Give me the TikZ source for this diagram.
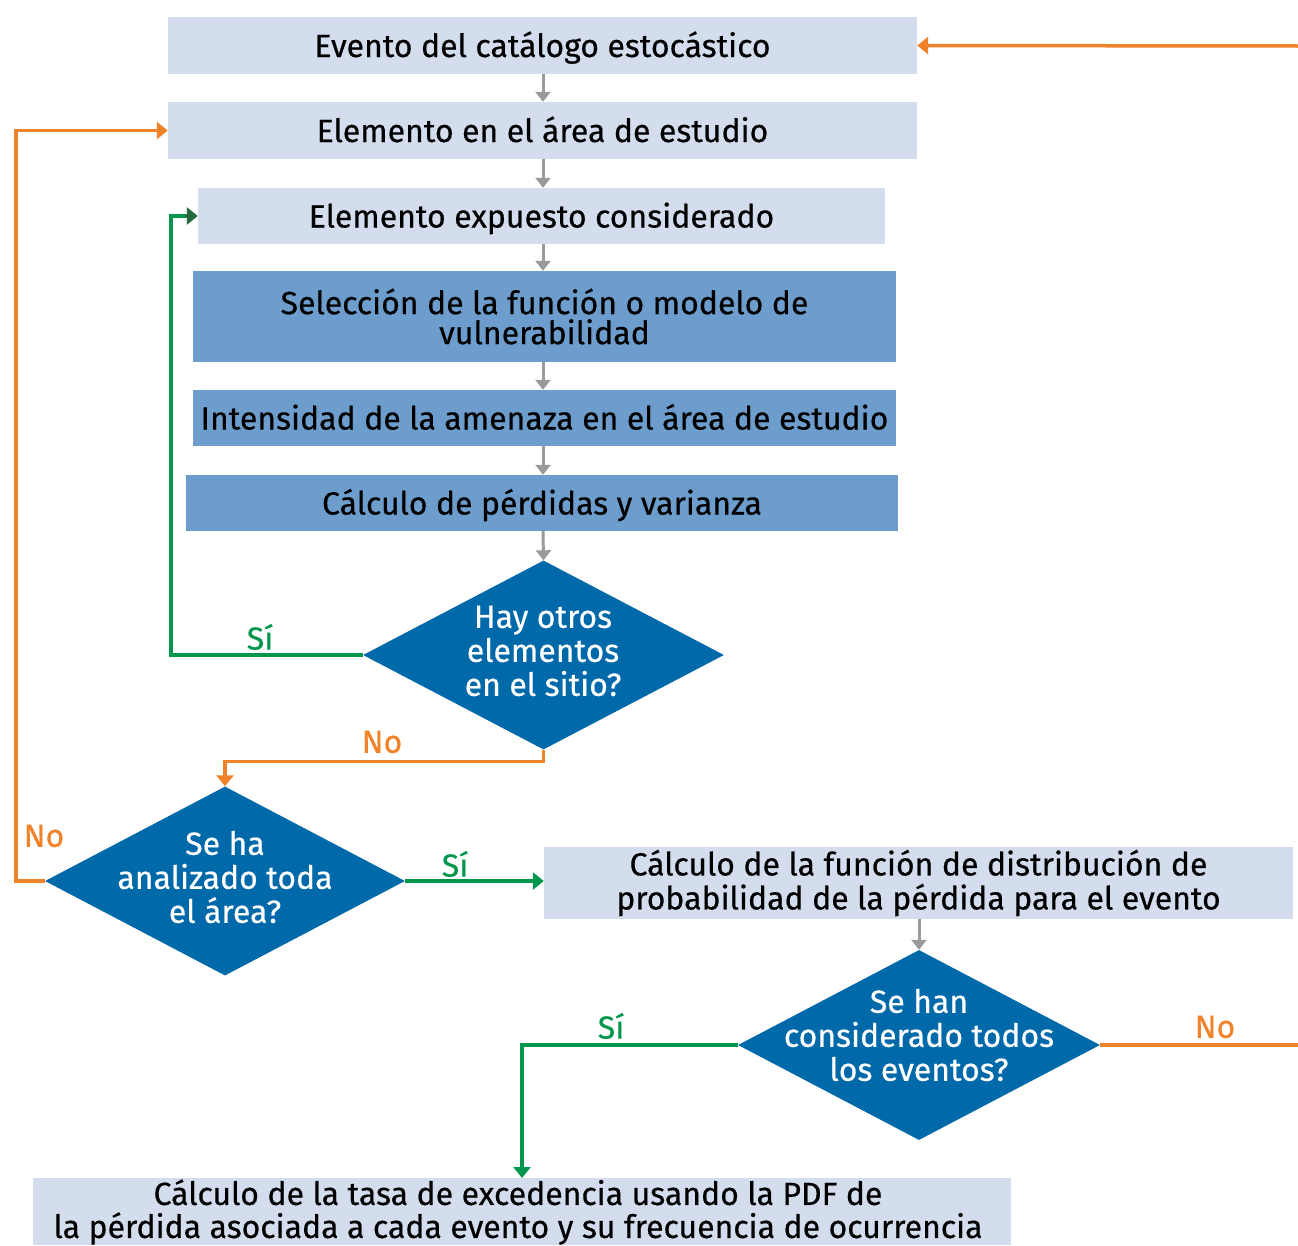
\documentclass[tikz,border=0pt]{standalone}
\usepackage{fontspec}
\setmainfont{Fira Sans}[FakeBold=0.5]
\usetikzlibrary{arrows.meta,shapes.geometric}
\definecolor{lightb}{HTML}{D4DDEE}
\definecolor{midb}{HTML}{6C9DCC}
\definecolor{diab}{HTML}{0069A9}
\definecolor{orangec}{HTML}{F0822A}
\definecolor{greenc}{HTML}{00964B}
\definecolor{dgreen}{HTML}{26683F}
\definecolor{grayc}{HTML}{9A9A9A}
\begin{document}
\begin{tikzpicture}[x=1pt,y={(0pt,-1pt)},
  font=\fontsize{32}{34}\selectfont,
  lbox/.style={rectangle, fill=lightb, draw=none, inner sep=0pt, align=center, text=black},
  mbox/.style={rectangle, fill=midb, draw=none, inner sep=0pt, align=center, text=black},
  sl/.style={text height=23pt, text depth=0pt},
  dia/.style={diamond, fill=diab, draw=none, inner sep=0pt},
  dtext/.style={text=white, align=center, inner sep=0pt},
  garrow/.style={draw=grayc, line width=3pt, -{Triangle[length=10pt,width=15pt]}},
  oarrow/.style={draw=orangec, line width=3.5pt, -{Triangle[length=11pt,width=17pt]}},
  oline/.style={draw=orangec, line width=3.5pt},
  grarrow/.style={draw=greenc, line width=3.5pt, -{Triangle[length=11pt,width=17pt]}},
  lblg/.style={text=greenc, inner sep=0pt},
  lblo/.style={text=orangec, inner sep=0pt}]
\useasboundingbox (0,0) rectangle (1298,1245);

% boxes
\node[lbox, sl, minimum width=749, minimum height=57] (e1) at (542.5,45.5) {Evento del catálogo estocástico};
\node[lbox, sl, minimum width=749, minimum height=57] (e2) at (542.5,130.5) {Elemento en el área de estudio};
\node[lbox, sl, minimum width=687, minimum height=56] (e3) at (541.5,216) {Elemento expuesto considerado};
\node[mbox, minimum width=703, minimum height=91, font=\fontsize{32}{30}\selectfont] (e4) at (544.5,316.5) {Selección de la función o modelo de\\vulnerabilidad};
\node[mbox, sl, minimum width=703, minimum height=56] (e5) at (544.5,418) {Intensidad de la amenaza en el área de estudio};
\node[mbox, sl, minimum width=712, minimum height=56] (e6) at (542,503) {Cálculo de pérdidas y varianza};

% diamonds
\node[dia, minimum width=361, minimum height=189] (d1) at (543.5,655) {};
\node[dtext] (d1t) at (543,651) {Hay otros\\elementos\\en el sitio?};
\node[dia, minimum width=360, minimum height=189] (d2) at (225,881) {};
\node[dtext] (d2t) at (225,877) {Se ha\\analizado toda\\el área?};
\node[lbox, minimum width=749, minimum height=72] (b9) at (918.5,883) {Cálculo de la función de distribución de\\probabilidad de la pérdida para el evento};
\node[dia, minimum width=362, minimum height=190] (d3) at (919,1045) {};
\node[dtext] (d3t) at (919,1035) {Se han\\considerado todos\\los eventos?};
\node[lbox, minimum width=978, minimum height=67, anchor=north] (b11) at (522,1178) {};
\node[inner sep=0pt, align=center, font=\fontsize{32}{33}\selectfont] (b11t) at (518,1212) {Cálculo de la tasa de excedencia usando la PDF de\\la pérdida asociada a cada evento y su frecuencia de ocurrencia};

% gray arrows
\draw[garrow] (e1.south -| 543,0) -- (e2.north -| 543,0);
\draw[garrow] (e2.south -| 543,0) -- (e3.north -| 543,0);
\draw[garrow] (e3.south -| 543,0) -- (e4.north -| 543,0);
\draw[garrow] (e4.south -| 543,0) -- (e5.north -| 543,0);
\draw[garrow] (e5.south -| 543,0) -- (e6.north -| 543,0);
\draw[garrow] (e6.south -| 543,0) -- (d1.north);
\draw[garrow] (b9.south -| d3.north) -- (d3.north);

% orange
\coordinate (rtop) at (1298,46);
\coordinate (rbot) at (1298,1045);
\draw[oarrow] (rtop) -- (e1.east);
\draw[oline] (d3.east) -- (rbot);
\node[lblo] (no3) at (1215,1027) {No};
\draw[oarrow] (d1.south) -- ++(0,12) -| (d2.north);
\node[lblo] (no1) at (382,742) {No};
\draw[oarrow] (d2.west) -- ++(-29,0) |- (e2.west);
\node[lblo] (no2) at (44,836) {No};

% green
\draw[draw=greenc, line width=3.5pt] (d1.west) -- ++(-192,0) |- ([xshift=-12pt]e3.west);
\draw[draw=dgreen, line width=3.5pt, -{Triangle[length=11pt,width=17pt]}] ([xshift=-13pt]e3.west) -- (e3.west);
\node[lblg] (si1) at (260,637) {Sí};
\draw[grarrow] (d2.east) -- (b9.west |- d2.east);
\node[lblg] (si2) at (455,864) {Sí};
\draw[grarrow] (d3.west) -| (b11.north);
\node[lblg] (si3) at (611,1026) {Sí};
\end{tikzpicture}
\end{document}
